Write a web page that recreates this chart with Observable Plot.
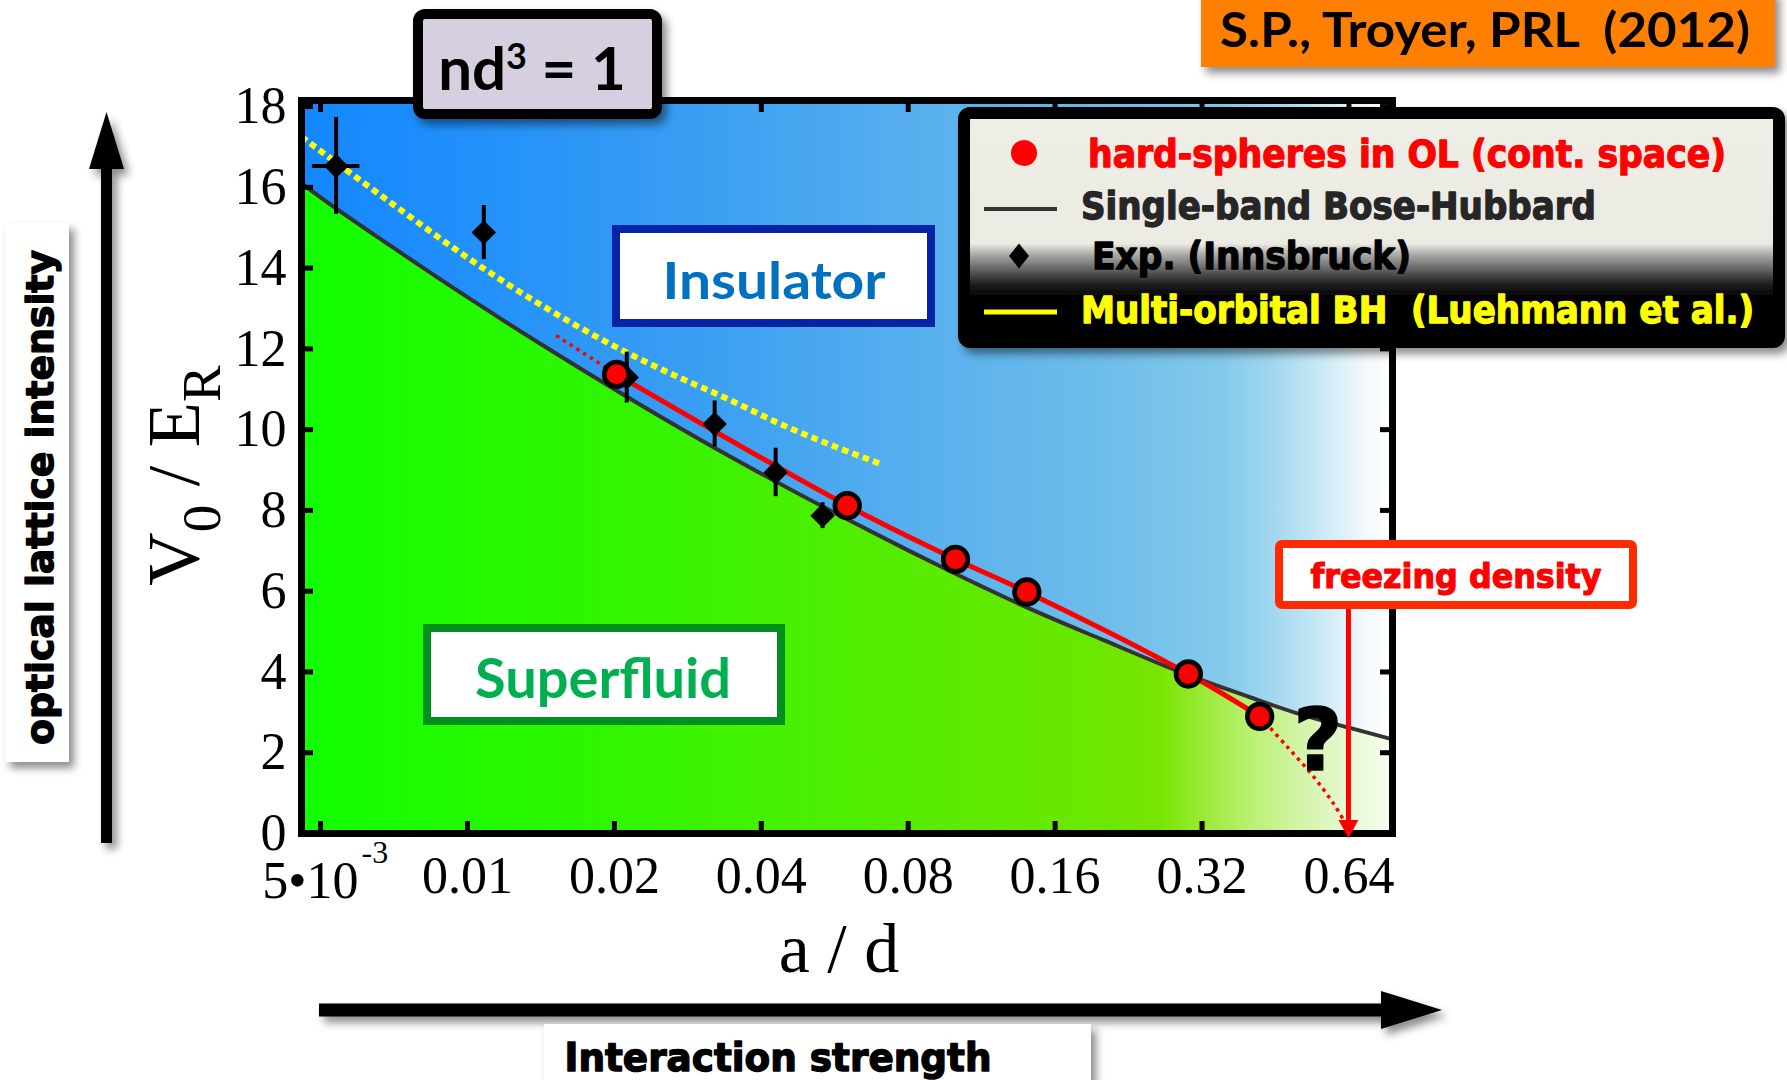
<!DOCTYPE html>
<html>
<head>
<meta charset="utf-8">
<script src="https://cdn.jsdelivr.net/npm/d3@7"></script>
<script src="https://cdn.jsdelivr.net/npm/@observablehq/plot@0.6"></script>
<style>
  html, body { margin: 0; padding: 0; background: #fff; }
  #wrap { position: relative; width: 1787px; height: 1080px; overflow: hidden; }
  #wrap > svg { position: absolute; left: 0; top: 0; }
</style>
</head>
<body>
<div id="wrap"></div>
<script>
// ---- data -------------------------------------------------------------
// Single-band Bose-Hubbard phase boundary: a/d vs V0/ER
const bhX = [0.00457, 0.005, 0.007, 0.01, 0.014, 0.02, 0.03, 0.04, 0.06, 0.08, 0.1, 0.14, 0.2, 0.3, 0.4, 0.5, 0.64, 0.786];
const bhY = [16.1, 15.75, 14.53, 13.28, 12.15, 11.0, 9.75, 8.91, 7.78, 7.01, 6.43, 5.6, 4.8, 3.92, 3.38, 2.98, 2.62, 2.33];

// Hard spheres in an optical lattice (continuous space QMC)
const hsX = [0.0202, 0.060, 0.100, 0.14, 0.30, 0.42];
const hsY = [11.37, 8.12, 6.79, 5.98, 3.95, 2.90];
// dotted extrapolations of the hard-sphere boundary
const hsLeadX = [0.0152, 0.0202];
const hsLeadY = [12.33, 11.37];
const hsTailX = [0.42, 0.479, 0.543, 0.595, 0.63];
const hsTailY = [2.90, 2.14, 1.39, 0.74, 0.25];

// Experiment (Innsbruck) with error bars
const expX = [0.00538, 0.0108, 0.0212, 0.0321, 0.0428, 0.0534];
const expY = [16.53, 14.88, 11.29, 10.14, 8.94, 7.87];
const expErr = [1.2, 0.67, 0.63, 0.57, 0.6, 0.32];
const expXLow = [0.00481, null, null, null, null, null];
const expXHigh = [0.00602, null, null, null, null, null];

// Multi-orbital Bose-Hubbard (Luehmann et al.)
const moX = [0.00457, 0.005, 0.007, 0.00997, 0.014, 0.0199, 0.0274, 0.0329, 0.0438, 0.0702];
const moY = [17.25, 16.9, 15.6, 14.27, 13.12, 12.08, 11.27, 10.85, 10.14, 9.15];

// axes
const xTicks = [0.005, 0.01, 0.02, 0.04, 0.08, 0.16, 0.32, 0.64];
const xTickLabels = ["5•10^-3", "0.01", "0.02", "0.04", "0.08", "0.16", "0.32", "0.64"];
const yTicks = [0, 2, 4, 6, 8, 10, 12, 14, 16, 18];
const xDomain = [0.00457, 0.786];
const yDomain = [0, 18.15];
const freezeX = 0.64;   // freezing density of hard spheres

// ---- layout -----------------------------------------------------------
const W = 1787, H = 1080;
const M = {left: 301, right: 395, top: 100, bottom: 247};
const plotW = W - M.left - M.right, plotH = H - M.top - M.bottom;
const tickPx = 12;
const tickY = tickPx * (yDomain[1] - yDomain[0]) / plotH;
const tickXr = Math.pow(xDomain[1] / xDomain[0], tickPx / plotW);

const zip = (xs, ys) => xs.map((x, i) => ({x, y: ys[i]}));
const bh = zip(bhX, bhY);
const hs = zip(hsX, hsY);
const hsLead = zip(hsLeadX, hsLeadY);
const hsTail = zip(hsTailX, hsTailY);
const mo = zip(moX, moY);
const exp = expX.map((x, i) => ({x, y: expY[i], e: expErr[i], lo: expXLow[i], hi: expXHigh[i]}));
const expH = exp.filter(d => d.lo != null);
const ticks = xTicks.map((v, i) => {
  const [base, sup] = xTickLabels[i].split("^");
  return {v, base, sup};
});
const plainTicks = ticks.filter(t => t.sup == null);
const powTicks = ticks.filter(t => t.sup != null);

const RED = "#ff0000";
const serif = "Liberation Serif, Times New Roman, serif";

const wrap = d3.select("#wrap");

const chart = Plot.plot({
  width: W, height: H,
  marginLeft: M.left, marginRight: M.right, marginTop: M.top, marginBottom: M.bottom,
  x: {type: "log", domain: xDomain, axis: null},
  y: {domain: yDomain, axis: null},
  style: {background: "transparent", overflow: "visible"},
  marks: [
    Plot.areaY(bh, {x: "x", y1: "y", y2: yDomain[1], fill: "url(#insulatorFill)", curve: "monotone-x", clip: true}),
    Plot.areaY(bh, {x: "x", y1: yDomain[0], y2: "y", fill: "url(#superfluidFill)", curve: "monotone-x", clip: true}),
    Plot.line(bh, {x: "x", y: "y", stroke: "#333333", strokeWidth: 4, curve: "monotone-x", clip: true}),
    Plot.line(mo, {x: "x", y: "y", stroke: "#ffff00", strokeWidth: 6, strokeDasharray: "6.5,4.5",
      strokeLinecap: "butt", curve: "monotone-x", clip: true}),
    Plot.line(hsLead, {x: "x", y: "y", stroke: RED, strokeWidth: 3.5, strokeDasharray: "3.5,4.5", strokeLinecap: "butt"}),
    Plot.line(hsTail, {x: "x", y: "y", stroke: RED, strokeWidth: 3.5, strokeDasharray: "3.5,4.5", strokeLinecap: "butt",
      curve: "catmull-rom"}),
    Plot.line(hs, {x: "x", y: "y", stroke: RED, strokeWidth: 5, curve: "catmull-rom"}),
    Plot.ruleX(exp, {x: "x", y1: d => d.y - d.e, y2: d => d.y + d.e, stroke: "black", strokeWidth: 4}),
    Plot.ruleY(expH, {y: "y", x1: "lo", x2: "hi", stroke: "black", strokeWidth: 4}),
    Plot.dot(exp, {x: "x", y: "y", symbol: "diamond2", r: 11, fill: "black", stroke: "none"}),
    Plot.dot(hs, {x: "x", y: "y", r: 12.3, fill: RED, stroke: "black", strokeWidth: 4.7}),
    // frame and inward ticks on all four sides
    Plot.frame({stroke: "black", strokeWidth: 7}),
    Plot.ruleX(xTicks, {x: d => d, y1: yDomain[0], y2: yDomain[0] + tickY, stroke: "black", strokeWidth: 5}),
    Plot.ruleX(xTicks, {x: d => d, y1: yDomain[1] - tickY, y2: yDomain[1], stroke: "black", strokeWidth: 5}),
    Plot.ruleY(yTicks, {y: d => d, x1: xDomain[0], x2: xDomain[0] * tickXr, stroke: "black", strokeWidth: 5}),
    Plot.ruleY(yTicks, {y: d => d, x1: xDomain[1] / tickXr, x2: xDomain[1], stroke: "black", strokeWidth: 5}),
    // tick labels
    Plot.text(yTicks, {y: d => d, text: d => String(d), frameAnchor: "left", textAnchor: "end", dx: -15,
      lineAnchor: "middle", fontFamily: serif, fontSize: 52, fill: "black"}),
    Plot.text(plainTicks, {x: "v", text: "base", frameAnchor: "bottom", lineAnchor: "bottom", dy: 59,
      fontFamily: serif, fontSize: 52, fill: "black"}),
    Plot.text(powTicks, {x: "v", text: "base", frameAnchor: "bottom", lineAnchor: "bottom", textAnchor: "end",
      dx: 38, dy: 64, fontFamily: serif, fontSize: 52, fill: "black"}),
    Plot.text(powTicks, {x: "v", text: "sup", frameAnchor: "bottom", lineAnchor: "bottom", textAnchor: "start",
      dx: 41, dy: 29, fontFamily: serif, fontSize: 32, fill: "black"}),
    // x axis title
    Plot.text(["a / d"], {frameAnchor: "bottom", lineAnchor: "bottom", dx: -8, dy: 138,
      fontFamily: serif, fontSize: 70, fill: "black"})
  ]
});
wrap.node().appendChild(chart);

const xs = chart.scale("x"), ys = chart.scale("y");

// ---- overlay: shared defs, arrows, boxes, legend -----------------------
const ov = wrap.append("svg").attr("width", W).attr("height", H).attr("viewBox", `0 0 ${W} ${H}`);
const defs = ov.append("defs");

function hGrad(id, stops) {
  const g = defs.append("linearGradient").attr("id", id).attr("gradientUnits", "userSpaceOnUse")
    .attr("x1", M.left).attr("x2", W - M.right).attr("y1", 0).attr("y2", 0);
  stops.forEach(([px, c]) => g.append("stop").attr("offset", (px - M.left) / plotW).attr("stop-color", c));
}
hGrad("insulatorFill", [
  [301, "#1487ff"], [500, "#2492fa"], [700, "#3a9ef2"], [900, "#55aeee"], [1100, "#6dbdea"],
  [1220, "#83c9ea"], [1270, "#9fd6ef"], [1320, "#c9e9f6"], [1365, "#f3f9fd"], [1392, "#ffffff"]
]);
hGrad("superfluidFill", [
  [301, "#12ff00"], [600, "#2ff600"], [900, "#55ec00"], [1100, "#6ce700"], [1160, "#78e500"],
  [1200, "#98ea32"], [1250, "#b9f073"], [1300, "#d3f4a8"], [1350, "#e8f9d5"], [1392, "#f6fdef"]
]);
const lg = defs.append("linearGradient").attr("id", "legendFill").attr("x1", 0).attr("x2", 0).attr("y1", 0).attr("y2", 1);
[[0, "#eeeee7"], [0.57, "#ebebe4"], [0.62, "#a8a8a4"], [0.686, "#606060"], [0.75, "#1c1c1c"], [0.81, "#000000"], [1, "#000000"]]
  .forEach(([o, c]) => lg.append("stop").attr("offset", o).attr("stop-color", c));

const filt = defs.append("filter").attr("id", "shadow").attr("filterUnits", "userSpaceOnUse")
  .attr("x", 0).attr("y", 0).attr("width", W).attr("height", H);
filt.append("feDropShadow").attr("dx", 5).attr("dy", 6).attr("stdDeviation", 4)
  .attr("flood-color", "#000").attr("flood-opacity", 0.45);

const heavy = "DejaVu Sans, Liberation Sans, Arial, sans-serif";
const calibri = "Lato, Open Sans, sans-serif";

function label(g, {x, y, text, size, family, weight = "bold", fill = "black", anchor = "start", len = null, thick = 0}) {
  const t = g.append("text").attr("x", x).attr("y", y).attr("font-size", size).attr("font-family", family)
    .attr("font-weight", weight).attr("fill", fill).attr("text-anchor", anchor).style("white-space", "pre").text(text);
  if (len) t.attr("textLength", len).attr("lengthAdjust", "spacingAndGlyphs");
  if (thick) t.attr("stroke", fill).attr("stroke-width", thick).attr("stroke-linejoin", "round");
  return t;
}

// left vertical arrow: optical lattice intensity
const la = ov.append("g").attr("filter", "url(#shadow)");
la.append("rect").attr("x", 101).attr("y", 160).attr("width", 11).attr("height", 683).attr("fill", "black");
la.append("path").attr("d", "M89,169 L106.5,112 L124,169 Z").attr("fill", "black");

const ob = ov.append("g");
ob.append("rect").attr("x", 5).attr("y", 223).attr("width", 64).attr("height", 539).attr("fill", "white").attr("filter", "url(#shadow)");
label(ob, {x: 0, y: 0, text: "optical lattice intensity", size: 38, family: heavy, anchor: "middle", len: 495, thick: 1.4})
  .attr("transform", "translate(53,497.5) rotate(-90)");

// y axis title V0 / ER
const yt = ov.append("text").attr("transform", "translate(199,475.5) rotate(-90)")
  .attr("text-anchor", "middle").attr("font-family", serif).attr("font-size", 74).style("white-space", "pre");
yt.append("tspan").text("V");
yt.append("tspan").attr("font-size", 55).attr("dy", 21).text("0");
yt.append("tspan").attr("dy", -21).text(" / ");
yt.append("tspan").text("E");
yt.append("tspan").attr("font-size", 55).attr("dy", 21).text("R");

// bottom horizontal arrow: interaction strength
const ba = ov.append("g").attr("filter", "url(#shadow)");
ba.append("rect").attr("x", 319).attr("y", 1003.5).attr("width", 1070).attr("height", 13).attr("fill", "black");
ba.append("path").attr("d", "M1381,991 L1442,1010 L1381,1029 Z").attr("fill", "black");
const ib = ov.append("g");
ib.append("rect").attr("x", 544).attr("y", 1024).attr("width", 547).attr("height", 70).attr("fill", "white").attr("filter", "url(#shadow)");
label(ib, {x: 778, y: 1071, text: "Interaction strength", size: 39, family: heavy, anchor: "middle", len: 427, thick: 1.4});

// nd^3 = 1 box
const nb = ov.append("g");
nb.append("rect").attr("x", 418).attr("y", 14).attr("width", 239).attr("height", 100).attr("rx", 7)
  .attr("fill", "#d6cfe0").attr("stroke", "black").attr("stroke-width", 10).attr("filter", "url(#shadow)");
const nt = nb.append("text").attr("x", 532).attr("y", 90).attr("text-anchor", "middle").attr("font-family", calibri)
  .attr("font-weight", "bold").attr("font-size", 60).attr("fill", "black").style("white-space", "pre");
nt.append("tspan").text("nd");
nt.append("tspan").attr("font-size", 36).attr("dy", -21).text("3");
nt.append("tspan").attr("dy", 21).text(" = 1");

// citation box
const cb = ov.append("g");
cb.append("rect").attr("x", 1201).attr("y", -10).attr("width", 574).attr("height", 77).attr("fill", "#ff7f00").attr("filter", "url(#shadow)");
label(cb, {x: 1220, y: 47, text: "S.P., Troyer, PRL  (2012)", size: 48, family: calibri, len: 530});

// legend
const lgG = ov.append("g");
lgG.append("rect").attr("x", 964).attr("y", 113).attr("width", 815).attr("height", 229).attr("rx", 6)
  .attr("fill", "url(#legendFill)").attr("stroke", "black").attr("stroke-width", 12).attr("filter", "url(#shadow)");
lgG.append("circle").attr("cx", 1024).attr("cy", 153).attr("r", 13).attr("fill", RED);
lgG.append("line").attr("x1", 984).attr("x2", 1057).attr("y1", 209).attr("y2", 209).attr("stroke", "#333").attr("stroke-width", 4);
lgG.append("path").attr("d", "M1019,243.5 L1029,256 L1019,268.5 L1009,256 Z").attr("fill", "black");
lgG.append("line").attr("x1", 984).attr("x2", 1057).attr("y1", 312).attr("y2", 312).attr("stroke", "#ffff00").attr("stroke-width", 5);
label(lgG, {x: 1088, y: 167, text: "hard-spheres in OL (cont. space)", size: 37, family: heavy, fill: RED, len: 638, thick: 1.3});
label(lgG, {x: 1081, y: 219, text: "Single-band Bose-Hubbard", size: 37, family: heavy, fill: "#262626", len: 515, thick: 1.3});
label(lgG, {x: 1092, y: 269, text: "Exp. (Innsbruck)", size: 37, family: heavy, fill: "black", len: 319, thick: 1.3});
label(lgG, {x: 1081, y: 323, text: "Multi-orbital BH  (Luehmann et al.)", size: 37, family: heavy, fill: "#ffff00", len: 673, thick: 1.3});

// phase labels
const ins = ov.append("g");
ins.append("rect").attr("x", 616).attr("y", 229).attr("width", 315).attr("height", 94).attr("fill", "white")
  .attr("stroke", "#0623a6").attr("stroke-width", 8);
label(ins, {x: 774, y: 299, text: "Insulator", size: 51, family: calibri, fill: "#0070c0", anchor: "middle", len: 223});
const sf = ov.append("g");
sf.append("rect").attr("x", 427).attr("y", 628).attr("width", 354).attr("height", 93).attr("fill", "white")
  .attr("stroke", "#00901e").attr("stroke-width", 8);
label(sf, {x: 603, y: 698, text: "Superfluid", size: 56, family: calibri, fill: "#00b050", anchor: "middle", len: 256});

// freezing density annotation
const fx = xs.apply(freezeX);
const y0 = ys.apply(yDomain[0]);
const fz = ov.append("g");
fz.append("line").attr("x1", fx).attr("x2", fx).attr("y1", 605).attr("y2", y0 - 10).attr("stroke", RED).attr("stroke-width", 5);
fz.append("path").attr("d", `M${fx - 10},${y0 - 13} L${fx + 10},${y0 - 13} L${fx},${y0 + 5} Z`).attr("fill", RED);
fz.append("rect").attr("x", 1279).attr("y", 544).attr("width", 354).attr("height", 61).attr("rx", 3).attr("fill", "white")
  .attr("stroke", "#ff2a00").attr("stroke-width", 8);
label(fz, {x: 1456, y: 588, text: "freezing density", size: 34, family: heavy, fill: RED, anchor: "middle", len: 291, thick: 1.2});
label(ov, {x: 1318, y: 770, text: "?", size: 85, family: heavy, fill: "black", anchor: "middle", thick: 1.5});
</script>
</body>
</html>
